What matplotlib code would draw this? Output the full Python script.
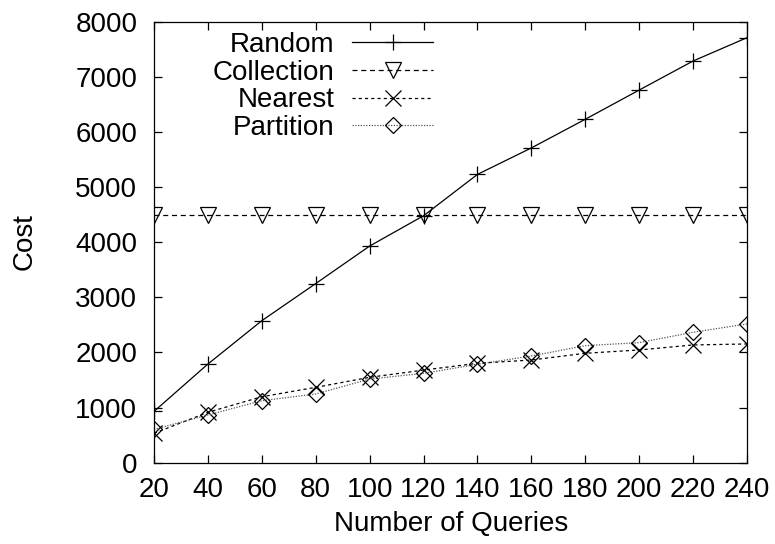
import matplotlib
matplotlib.use("Agg")
import matplotlib.pyplot as plt
from matplotlib.ticker import MultipleLocator

queries = [20, 40, 60, 80, 100, 120, 140, 160, 180, 200, 220, 240]
random_cost = [930, 1790, 2576, 3250, 3930, 4480, 5230, 5710, 6230, 6760, 7287, 7710]
collection_cost = [4500, 4500, 4500, 4500, 4500, 4500, 4500, 4500, 4500, 4500, 4500, 4500]
nearest_cost = [533, 914, 1197, 1367, 1549, 1680, 1803, 1863, 1985, 2045, 2136, 2154]
partition_cost = [605, 865, 1125, 1246, 1518, 1621, 1785, 1936, 2123, 2178, 2366, 2517]

plt.rcParams['font.family'] = ['Liberation Sans', 'DejaVu Sans']
FS = 20

fig = plt.figure(figsize=(7.75, 5.44), dpi=100)
L, R, T, B = 154, 747, 21.7, 462.7
ax = fig.add_axes([L/775, 1-B/544, (R-L)/775, (B-T)/544])

lw = 0.9
ax.plot(queries, random_cost, color='black', lw=lw, ls='-', marker='+',
        markersize=12, markeredgewidth=lw, label='Random')
ax.plot(queries, collection_cost, color='black', lw=lw, ls=(0, (4, 3)), marker='v',
        markersize=11, markerfacecolor='none', markeredgewidth=lw, label='Collection')
ax.plot(queries, nearest_cost, color='black', lw=lw, ls=(0, (2.5, 2.5)), marker='x',
        markersize=11, markeredgewidth=lw, label='Nearest')
ax.plot(queries, partition_cost, color='#555555', lw=lw, ls=(0, (1, 1.2)), marker='D',
        markersize=8.5, markerfacecolor='none', markeredgecolor='black',
        markeredgewidth=lw, label='Partition')

ax.set_xlim(20, 240)
ax.set_ylim(0, 8000)
ax.xaxis.set_major_locator(MultipleLocator(20))
ax.yaxis.set_major_locator(MultipleLocator(1000))
ax.tick_params(direction='in', length=6, width=0.9, top=True, right=True,
               labelsize=FS)
ax.tick_params(axis='x', pad=10)
ax.tick_params(axis='y', pad=12)
for s in ax.spines.values():
    s.set_linewidth(0.9)

leg = ax.legend(loc='upper right', bbox_to_anchor=((433-L)/(R-L), (B-32)/(B-T)),
                frameon=False, markerfirst=False, fontsize=FS, handlelength=2.9,
                handletextpad=0.65, labelspacing=0.06, borderpad=0,
                borderaxespad=0)

fig.text(25/775, 1-241.5/544, 'Cost', fontsize=FS, rotation=90,
         ha='center', va='center')
fig.text(451/775, 1-531/544, 'Number of Queries', fontsize=FS,
         ha='center', va='baseline')

fig.savefig('out.png', dpi=100)
